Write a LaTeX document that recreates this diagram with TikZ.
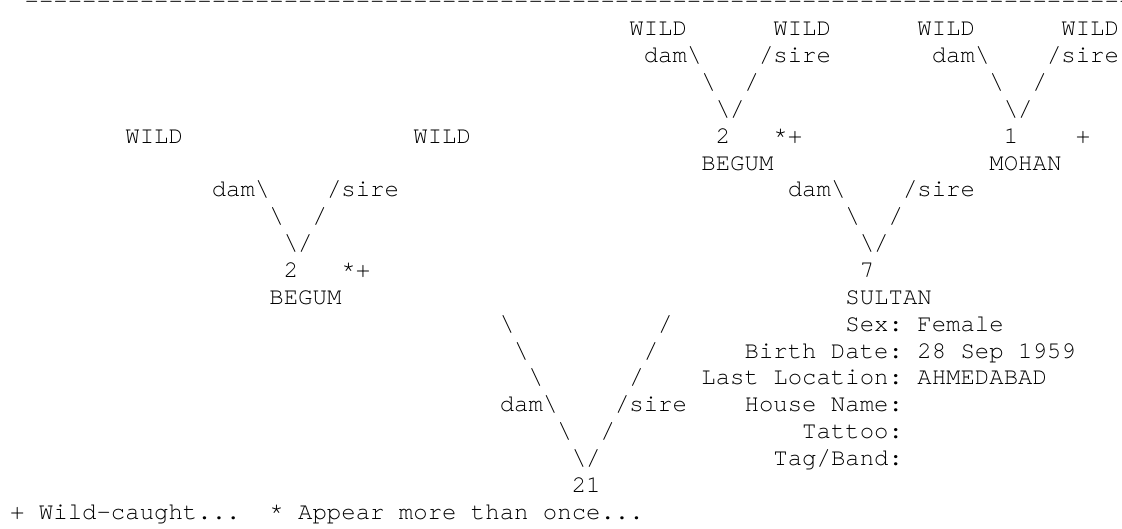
\documentclass[tikz,border=0pt]{standalone}
\usepackage{fontspec}
\newfontfamily\pedfont{TeX Gyre Cursor}
\newcommand\bsl{\textbackslash}

\begin{document}
\begin{tikzpicture}[x=14.4pt,y=-26.85pt,
    ch/.style={anchor=base west,inner sep=0pt,text=black,
      font=\pedfont\fontsize{24pt}{26.85pt}\selectfont\frenchspacing}]
  \useasboundingbox (-10pt,9pt) rectangle (1112pt,-520pt);
  \clip (-10pt,9pt) rectangle (1112pt,-520pt);
  \node[ch] (rule) at (1,0) {--------------------------------------------------------------------------------};
  % great-grandparents of the sire
  \path (43,1) node[ch] (wA) {WILD}
        (53,1) node[ch] (wB) {WILD}
        (63,1) node[ch] (wC) {WILD}
        (73,1) node[ch] (wD) {WILD}
        (44,2) node[ch] (damA) {dam\bsl}
        (52,2) node[ch] (sireA) {/sire}
        (64,2) node[ch] (damB) {dam\bsl}
        (72,2) node[ch] (sireB) {/sire}
        (48,3) node[ch] (lA) {\bsl}
        (51,3) node[ch] (rA) {/}
        (68,3) node[ch] (lB) {\bsl}
        (71,3) node[ch] (rB) {/}
        (49,4) node[ch] (vA) {\bsl/}
        (69,4) node[ch] (vB) {\bsl/};
  % grandparents
  \path (8,5) node[ch] (wE) {WILD}
        (28,5) node[ch] (wF) {WILD}
        (49,5) node[ch] (nBegumB) {2}
        (53,5) node[ch] (fBegumB) {*+}
        (69,5) node[ch] (nMohan) {1}
        (74,5) node[ch] (fMohan) {+}
        (48,6) node[ch] (begumB) {BEGUM}
        (68,6) node[ch] (mohan) {MOHAN}
        (14,7) node[ch] (damC) {dam\bsl}
        (22,7) node[ch] (sireC) {/sire}
        (54,7) node[ch] (damD) {dam\bsl}
        (62,7) node[ch] (sireD) {/sire}
        (18,8) node[ch] (lC) {\bsl}
        (21,8) node[ch] (rC) {/}
        (58,8) node[ch] (lD) {\bsl}
        (61,8) node[ch] (rD) {/}
        (19,9) node[ch] (vC) {\bsl/}
        (59,9) node[ch] (vD) {\bsl/};
  % parents
  \path (19,10) node[ch] (nBegumA) {2}
        (23,10) node[ch] (fBegumA) {*+}
        (59,10) node[ch] (nSultan) {7}
        (18,11) node[ch] (begumA) {BEGUM}
        (58,11) node[ch] (sultan) {SULTAN}
        (34,12) node[ch] (lE1) {\bsl}
        (45,12) node[ch] (rE1) {/}
        (35,13) node[ch] (lE2) {\bsl}
        (44,13) node[ch] (rE2) {/}
        (36,14) node[ch] (lE3) {\bsl}
        (43,14) node[ch] (rE3) {/}
        (34,15) node[ch] (damE) {dam\bsl}
        (42,15) node[ch] (sireE) {/sire}
        (38,16) node[ch] (lE4) {\bsl}
        (41,16) node[ch] (rE4) {/}
        (39,17) node[ch] (vE) {\bsl/}
        (39,18) node[ch] (n21) {21};
  % details of the sire
  \path (58,12) node[ch] (sex) {Sex: Female}
        (51,13) node[ch] (birth) {Birth Date: 28 Sep 1959}
        (48,14) node[ch] (loc) {Last Location: AHMEDABAD}
        (51,15) node[ch] (house) {House Name:}
        (55,16) node[ch] (tattoo) {Tattoo:}
        (53,17) node[ch] (tag) {Tag/Band:};
  \node[ch] (keyW) at (0,19) {+ Wild-caught...};
  \node[ch] (keyA) at (18,19) {* Appear more than once...};
\end{tikzpicture}
\end{document}
